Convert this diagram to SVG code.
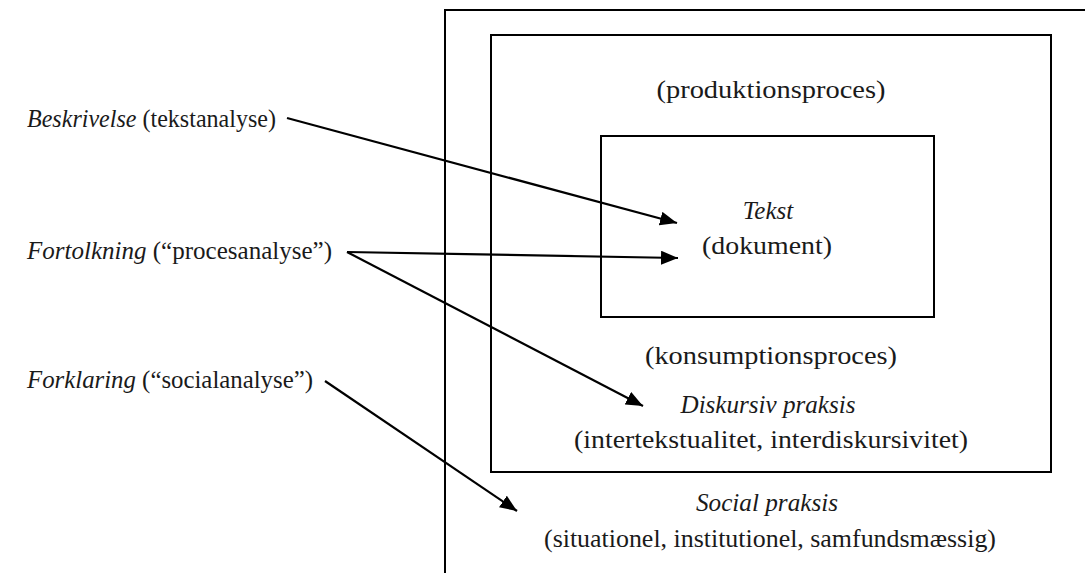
<svg xmlns="http://www.w3.org/2000/svg" width="1085" height="573" viewBox="0 0 1085 573">
<style>
.box{fill:none;stroke:#000;stroke-width:2}
.t{font-family:"Liberation Serif","Times New Roman",serif;font-size:25px;fill:#1a1a1a}
.i{font-style:italic}
.c{text-anchor:middle}
.con{stroke:#000;stroke-width:2.2;fill:none;marker-end:url(#ah)}
</style>
<defs>
<marker id="ah" markerUnits="userSpaceOnUse" markerWidth="18" markerHeight="14" refX="17" refY="7" orient="auto">
<path d="M0,0 L17,7 L0,14 z" fill="#000"/>
</marker>
</defs>
<rect width="1085" height="573" fill="#fff"/>
<g id="social">
<rect class="box" x="445" y="10" width="660" height="600"/>
<text class="t i c" x="767" y="511" textLength="142" lengthAdjust="spacingAndGlyphs">Social praksis</text>
<text class="t c" x="770" y="547" textLength="452" lengthAdjust="spacingAndGlyphs">(situationel, institutionel, samfundsmæssig)</text>
</g>
<g id="diskursiv">
<rect class="box" x="491" y="35" width="560" height="437"/>
<text class="t c" x="771" y="98" textLength="229" lengthAdjust="spacingAndGlyphs">(produktionsproces)</text>
<text class="t c" x="771" y="364" textLength="252" lengthAdjust="spacingAndGlyphs">(konsumptionsproces)</text>
<text class="t i c" x="768" y="413" textLength="175" lengthAdjust="spacingAndGlyphs">Diskursiv praksis</text>
<text class="t c" x="771" y="448" textLength="394" lengthAdjust="spacingAndGlyphs">(intertekstualitet, interdiskursivitet)</text>
</g>
<g id="tekst">
<rect class="box" x="601" y="136" width="333" height="181"/>
<text class="t i c" x="768" y="219">Tekst</text>
<text class="t c" x="767" y="254" textLength="130" lengthAdjust="spacingAndGlyphs">(dokument)</text>
</g>
<g id="beskrivelse">
<text class="t" x="27" y="127" textLength="249" lengthAdjust="spacingAndGlyphs"><tspan class="i">Beskrivelse</tspan> (tekstanalyse)</text>
</g>
<g id="fortolkning">
<text class="t" x="27" y="259" textLength="305" lengthAdjust="spacingAndGlyphs"><tspan class="i">Fortolkning</tspan> (“procesanalyse”)</text>
</g>
<g id="forklaring">
<text class="t" x="27" y="388" textLength="286" lengthAdjust="spacingAndGlyphs"><tspan class="i">Forklaring</tspan> (“socialanalyse”)</text>
</g>
<g id="connectors">
<line class="con" x1="287" y1="118" x2="677" y2="223"/>
<line class="con" x1="347" y1="252" x2="678" y2="258"/>
<line class="con" x1="347" y1="252" x2="643" y2="406"/>
<line class="con" x1="325" y1="381" x2="517" y2="511"/>
</g>
</svg>
